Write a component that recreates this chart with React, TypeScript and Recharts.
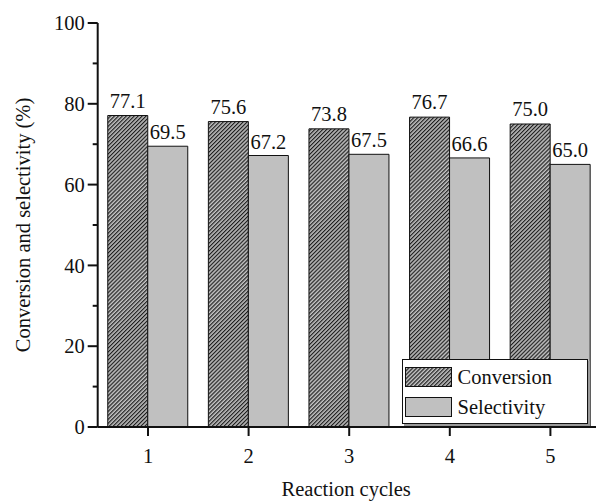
import React from 'react';
import { BarChart, Bar, XAxis, YAxis, Legend, LabelList } from 'recharts';

// Catalyst recycling: conversion and selectivity per reaction cycle (%)
const cycles = ['1', '2', '3', '4', '5'];
const conversion = [77.1, 75.6, 73.8, 76.7, 75.0];
const selectivity = [69.5, 67.2, 67.5, 66.6, 65.0];
const yTicks = [0, 10, 20, 30, 40, 50, 60, 70, 80, 90, 100];

const data = cycles.map((c, i) => ({
  cycle: c,
  conversion: conversion[i],
  selectivity: selectivity[i],
}));

const FONT = '"Liberation Serif", "Times New Roman", Times, serif';
const INK = '#111111';
const FS = 20.5;
const HATCH_BG = '#c2c2c2';
const HATCH_LINE = '#1e1e1e';
const GREY = '#c0c0c0';

const fills: Record<string, string> = {
  conversion: 'url(#hatchConv)',
  selectivity: GREY,
};

function Hatch({ id }: { id: string }) {
  return (
    <pattern id={id} patternUnits="userSpaceOnUse" width={2.8} height={2.8} patternTransform="rotate(45)">
      <rect x={0} y={0} width={2.8} height={2.8} fill={HATCH_BG} />
      <line x1={0.6} y1={0} x2={0.6} y2={2.8} stroke={HATCH_LINE} strokeWidth={1.2} />
    </pattern>
  );
}

// Left axis ticks: long ticks with labels every 20, short ticks in between
const YTick = (props: any) => {
  const { x, y, payload } = props;
  const v = payload.value as number;
  const major = v % 20 === 0;
  return (
    <g>
      <line x1={x} x2={x - (major ? 10 : 5)} y1={y} y2={y} stroke={INK} strokeWidth={2} />
      {major && (
        <text x={x - 13} y={y} dy="0.35em" textAnchor="end" fill={INK} fontSize={FS} fontFamily={FONT}>
          {v}
        </text>
      )}
    </g>
  );
};

const YTitle = (props: any) => {
  const vb = props.viewBox;
  const cx = vb.x + 29.5;
  const cy = vb.y + vb.height / 2;
  return (
    <text
      x={cx}
      y={cy}
      transform={`rotate(-90, ${cx}, ${cy})`}
      textAnchor="middle"
      fill={INK}
      fontSize={FS}
      fontFamily={FONT}
    >
      Conversion and selectivity (%)
    </text>
  );
};

const XTitle = (props: any) => {
  const vb = props.viewBox;
  return (
    <text x={vb.x + vb.width / 2 - 3} y={vb.y + 69} textAnchor="middle" fill={INK} fontSize={FS} fontFamily={FONT}>
      Reaction cycles
    </text>
  );
};

const LegendBox = (props: any) => {
  const payload = props.payload || [];
  return (
    <div
      style={{
        width: '100%',
        height: '100%',
        boxSizing: 'border-box',
        border: `1px solid ${INK}`,
        background: '#ffffff',
        boxShadow: '2px 2px 0 #9a9a9a',
        paddingTop: 6.5,
        paddingLeft: 2.5,
        display: 'flex',
        flexDirection: 'column',
        gap: 10,
      }}
    >
      {payload.map((entry: any) => (
        <div key={entry.dataKey} style={{ display: 'flex', alignItems: 'center', height: 20 }}>
          <svg width={47} height={20} style={{ display: 'block' }}>
            <defs>
              <Hatch id="hatchConvLegend" />
            </defs>
            <rect
              x={0.5}
              y={0.5}
              width={46}
              height={19}
              fill={entry.dataKey === 'conversion' ? 'url(#hatchConvLegend)' : fills[entry.dataKey]}
              stroke={INK}
              strokeWidth={1}
            />
          </svg>
          <span
            style={{
              marginLeft: 5.5,
              fontFamily: FONT,
              fontSize: FS,
              color: INK,
              lineHeight: '20px',
              whiteSpace: 'nowrap',
            }}
          >
            {entry.value}
          </span>
        </div>
      ))}
    </div>
  );
};

export default function App() {
  return (
    <div
      style={{
        position: 'absolute',
        left: 0,
        top: 0,
        width: 596,
        height: 502,
        overflow: 'hidden',
        background: '#ffffff',
      }}
    >
      <BarChart
        width={603}
        height={502}
        data={data}
        margin={{ top: 23, right: 2.3, bottom: 0, left: 0 }}
        barCategoryGap="10%"
        barGap={0}
      >
        <defs>
          <Hatch id="hatchConv" />
        </defs>
        <XAxis
          dataKey="cycle"
          height={75}
          tickSize={9}
          tickMargin={12.5}
          axisLine={{ stroke: INK, strokeWidth: 2 }}
          tickLine={{ stroke: INK, strokeWidth: 2 }}
          tick={{ fill: INK, fontSize: FS, fontFamily: FONT }}
          label={<XTitle />}
        />
        <XAxis
          xAxisId="top"
          dataKey="cycle"
          orientation="top"
          height={0}
          tick={false}
          tickLine={false}
          axisLine={{ stroke: INK, strokeWidth: 2 }}
        />
        <YAxis
          width={97.7}
          domain={[0, 100]}
          ticks={yTicks}
          interval={0}
          tickSize={0}
          tickMargin={0}
          tickLine={false}
          axisLine={{ stroke: INK, strokeWidth: 2 }}
          tick={<YTick />}
          label={<YTitle />}
        />
        <Legend
          layout="vertical"
          align="center"
          verticalAlign="middle"
          content={<LegendBox />}
          wrapperStyle={{ position: 'absolute', left: 401.5, top: 359, width: 186, height: 65, margin: 0 }}
        />
        <Bar
          dataKey="conversion"
          name="Conversion"
          fill={fills.conversion}
          stroke={INK}
          strokeWidth={1}
          isAnimationActive={false}
        >
          <LabelList
            dataKey="conversion"
            position="top"
            offset={8}
            formatter={(v: any) => Number(v).toFixed(1)}
            fill={INK}
            fontSize={FS}
            fontFamily={FONT}
          />
        </Bar>
        <Bar
          dataKey="selectivity"
          name="Selectivity"
          fill={fills.selectivity}
          stroke={INK}
          strokeWidth={1}
          isAnimationActive={false}
        >
          <LabelList
            dataKey="selectivity"
            position="top"
            offset={7}
            formatter={(v: any) => Number(v).toFixed(1)}
            fill={INK}
            fontSize={FS}
            fontFamily={FONT}
          />
        </Bar>
      </BarChart>
    </div>
  );
}
